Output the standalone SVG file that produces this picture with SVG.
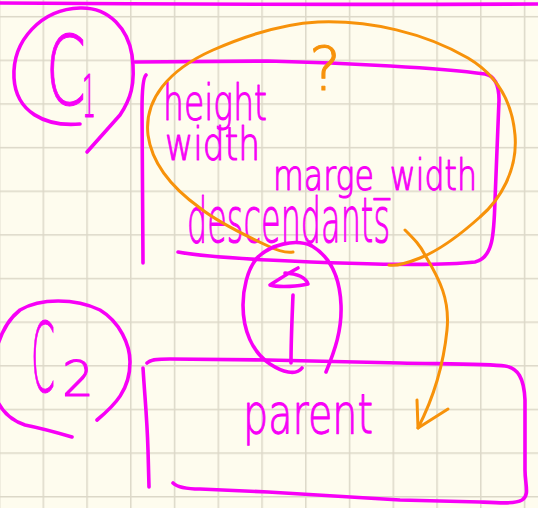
<svg xmlns="http://www.w3.org/2000/svg" width="538" height="508" viewBox="0 0 538 508">
  <style>
    .ink { fill: none; stroke: #f700f7; stroke-width: 3.6; stroke-linecap: round; stroke-linejoin: round; }
    .pen { fill: none; stroke: #f7920a; stroke-width: 3; stroke-linecap: round; stroke-linejoin: round; }
    .hand { fill: #f700f7; stroke: #f700f7; stroke-width: 1.1; stroke-linejoin: round; font-family: "DejaVu Sans", "Liberation Sans", sans-serif; font-weight: 200; }
    .note { fill: #f7920a; stroke: #f7920a; stroke-width: 1.1; stroke-linejoin: round; font-family: "DejaVu Sans", "Liberation Sans", sans-serif; font-weight: 200; }
  </style>
  <defs>
    <pattern id="grid" patternUnits="userSpaceOnUse" x="-1.2" y="15.95" width="43.75" height="43.64">
      <path d="M0.75,0 V43.64 M0,0.75 H43.75" stroke="#dcd8c8" stroke-width="1.5" fill="none"/>
    </pattern>
  </defs>

  <!-- paper -->
  <rect width="538" height="508" fill="#fefcee"/>
  <rect width="538" height="508" fill="url(#grid)"/>
  <path class="ink" d="M0,3 Q270,5 538,4"/>

  <!-- container C1 -->
  <g id="c1">
    <path class="ink" d="M80,124 C45,127 16,112 14,78 C12,40 42,9 80,8 C110,7 128,30 132,55 C136,85 130,100 120,115 L87,152"/>
    <text class="hand" y="105"><tspan x="46" font-size="96" textLength="40" lengthAdjust="spacingAndGlyphs">C</tspan><tspan x="82" font-size="58" dy="12" textLength="14" lengthAdjust="spacingAndGlyphs">1</tspan></text>
  </g>

  <!-- child box: height / width / marge_width / descendants -->
  <g id="child">
    <path class="ink" d="M135,62 L268,61 C350,63 440,68 485,74 C496,76 499,88 499,100 L495,200 C494,235 493,258 475,262 C440,266 350,264 268,260 C230,258 200,256 178,252"/>
    <path class="ink" d="M146,75 C143,78 142,90 142,110 L143,263"/>
    <text class="hand" x="163" y="120" font-size="50" textLength="104" lengthAdjust="spacingAndGlyphs">height</text>
    <text class="hand" x="165" y="160" font-size="46" textLength="95" lengthAdjust="spacingAndGlyphs">width</text>
    <text class="hand" x="273" y="190" font-size="42" textLength="204" lengthAdjust="spacingAndGlyphs">marge_width</text>
    <text class="hand" x="187" y="242" font-size="62" textLength="203" lengthAdjust="spacingAndGlyphs">descendants</text>
  </g>

  <!-- scope loop with question -->
  <g id="scope">
    <path class="pen" d="M293,252 C285,253 276,250 268,246 C240,233 215,220 200,208 C175,190 152,165 148,135 C144,100 168,70 213,50 C245,36 280,24 318,22 C370,20 425,33 468,58 C495,74 512,100 515,135 C518,170 500,200 480,217 C460,235 440,250 420,258 C405,264 395,266 389,265"/>
    <text class="note" x="309" y="90" font-size="60">?</text>
  </g>

  <!-- container C2 -->
  <g id="c2">
    <path class="ink" d="M72,437 C55,432 40,428 25,425 C10,420 0,410 -5,395 C-10,370 -5,330 20,310 C40,298 75,298 100,310 C120,322 130,345 130,362 C130,390 115,405 97,420"/>
    <text class="hand" y="392"><tspan x="31" font-size="96" textLength="24" lengthAdjust="spacingAndGlyphs">C</tspan><tspan x="62" font-size="50" dy="4" textLength="32" lengthAdjust="spacingAndGlyphs">2</tspan></text>
  </g>

  <!-- parent box -->
  <g id="parent">
    <path class="ink" d="M147,363 C150,360 155,359 170,359 L268,360 L400,363 C450,364 490,364 505,366 C518,368 524,378 525,400 L525,470 C525,485 530,495 522,500 C515,504 500,503 480,502 L400,500 L268,492 L200,489 C185,489 177,487 173,483"/>
    <path class="ink" d="M143,368 C145,400 147,417 148,450 L149,487"/>
    <text class="hand" x="243" y="433" font-size="56" textLength="130" lengthAdjust="spacingAndGlyphs">parent</text>
  </g>

  <!-- loop around the link -->
  <g id="link">
    <path class="ink" d="M326,372 C335,350 342,330 341,305 C340,280 332,258 312,246 C295,238 270,245 257,258 C247,270 243,290 243,305 C243,330 252,352 270,364 C282,372 296,376 302,368"/>
  </g>

  <!-- connectors -->
  <g id="connectors">
    <path class="ink" d="M298,268 C290,272 278,280 270,285 C280,288 300,286 308,284 C306,278 300,274 285,273"/>
    <path class="ink" d="M293,295 C292,320 291,340 291,363"/>
    <path class="pen" d="M405,230 C415,240 420,245 425,255 C440,280 450,300 447,330 C444,360 435,395 418,428"/>
    <path class="pen" d="M417,400 L418,428 L448,409"/>
  </g>
</svg>
